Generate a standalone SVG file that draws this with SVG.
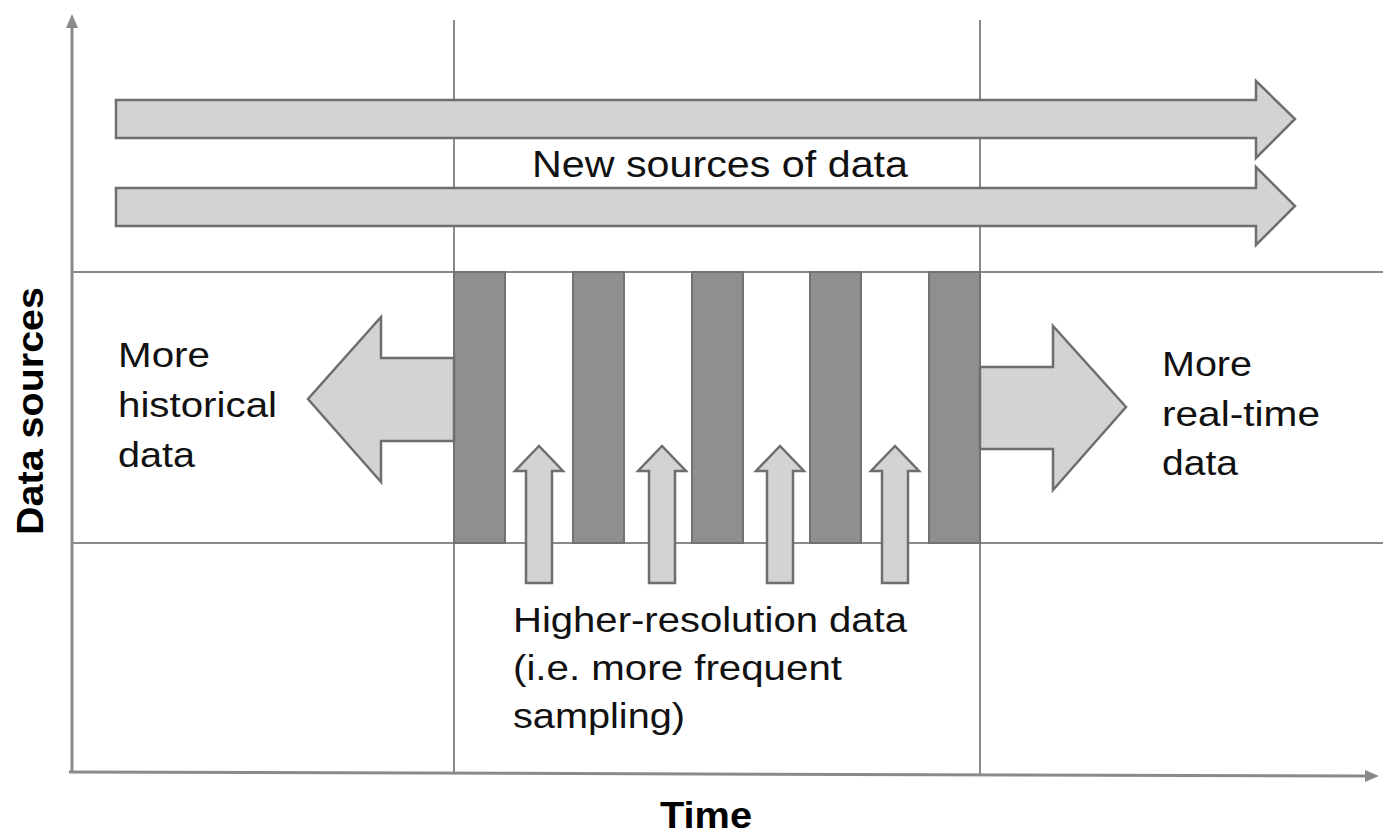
<svg xmlns="http://www.w3.org/2000/svg" width="1389" height="834" viewBox="0 0 1389 834">
<style>
.grid{stroke:#8a8a8a;stroke-width:2;fill:none}
.axis{stroke:#8a8a8a;stroke-width:3;fill:none}
.light{fill:#d3d3d3;stroke:#6e6e6e;stroke-width:2.5;stroke-linejoin:miter}
.dark{fill:#8f8f8f;stroke:#727272;stroke-width:2}
.lbl{font-family:"Liberation Sans",Arial,sans-serif;font-size:35px;fill:#111}
.bold{font-family:"Liberation Sans",Arial,sans-serif;font-size:36px;font-weight:bold;fill:#000}
</style>
<rect width="1389" height="834" fill="#ffffff"/>
<g id="grid">
<line class="grid" x1="454" y1="20" x2="454" y2="772"/>
<line class="grid" x1="980" y1="20" x2="980" y2="776"/>
<line class="grid" x1="72" y1="272" x2="1383" y2="272"/>
<line class="grid" x1="72" y1="543" x2="1383" y2="543"/>
</g>
<g id="axes">
<line class="axis" x1="72" y1="773" x2="72" y2="27"/>
<polygon points="72,14 66,28 78,28" fill="#8a8a8a"/>
<line class="axis" x1="69" y1="772" x2="1366" y2="776"/>
<polygon points="1379,776 1365,770 1365,782" fill="#8a8a8a"/>
</g>
<g id="new-sources-arrow-1">
<polygon class="light" points="116,100 1256,100 1256,81 1295,119 1256,158 1256,138 116,138"/>
</g>
<g id="new-sources-arrow-2">
<polygon class="light" points="116,188 1256,188 1256,167 1295,206 1256,245 1256,226 116,226"/>
</g>
<g id="new-sources-label">
<text class="lbl" x="532" y="177" textLength="376" lengthAdjust="spacingAndGlyphs" style="font-size:37px">New sources of data</text>
</g>
<g id="bars">
<rect class="dark" x="454" y="272" width="51" height="271"/>
<rect class="dark" x="573" y="272" width="51" height="271"/>
<rect class="dark" x="692" y="272" width="51" height="271"/>
<rect class="dark" x="810" y="272" width="51" height="271"/>
<rect class="dark" x="929" y="272" width="51" height="271"/>
</g>
<g id="historical-arrow">
<polygon class="light" points="454,358 381,358 381,317 308,399 381,482 381,441 454,441"/>
</g>
<g id="realtime-arrow">
<polygon class="light" points="980,367 1053,367 1053,326 1126,407 1053,490 1053,449 980,449"/>
</g>
<g id="resolution-arrows">
<polygon class="light" points="526,583 526,471 515,471 539,446 563,471 552,471 552,583"/>
<polygon class="light" points="649,583 649,471 638,471 662,446 686,471 675,471 675,583"/>
<polygon class="light" points="767,583 767,471 756,471 780,446 804,471 793,471 793,583"/>
<polygon class="light" points="882,583 882,471 871,471 895,446 919,471 908,471 908,583"/>
</g>
<g id="historical-label">
<text class="lbl" x="118" y="367" textLength="92" lengthAdjust="spacingAndGlyphs">More</text>
<text class="lbl" x="118" y="417" textLength="159" lengthAdjust="spacingAndGlyphs">historical</text>
<text class="lbl" x="118" y="467" textLength="77" lengthAdjust="spacingAndGlyphs">data</text>
</g>
<g id="realtime-label">
<text class="lbl" x="1162" y="376" textLength="90" lengthAdjust="spacingAndGlyphs">More</text>
<text class="lbl" x="1162" y="426" textLength="158" lengthAdjust="spacingAndGlyphs">real-time</text>
<text class="lbl" x="1162" y="475" textLength="76" lengthAdjust="spacingAndGlyphs">data</text>
</g>
<g id="resolution-label">
<text class="lbl" x="513" y="632" textLength="394" lengthAdjust="spacingAndGlyphs">Higher-resolution data</text>
<text class="lbl" x="513" y="680" textLength="329" lengthAdjust="spacingAndGlyphs">(i.e. more frequent</text>
<text class="lbl" x="513" y="728" textLength="172" lengthAdjust="spacingAndGlyphs">sampling)</text>
</g>
<g id="y-axis-label">
<text class="bold" transform="translate(43,411) rotate(-90)" text-anchor="middle" textLength="248" lengthAdjust="spacingAndGlyphs">Data sources</text>
</g>
<g id="x-axis-label">
<text class="bold" x="706" y="828" text-anchor="middle" textLength="92" lengthAdjust="spacingAndGlyphs">Time</text>
</g>
</svg>
